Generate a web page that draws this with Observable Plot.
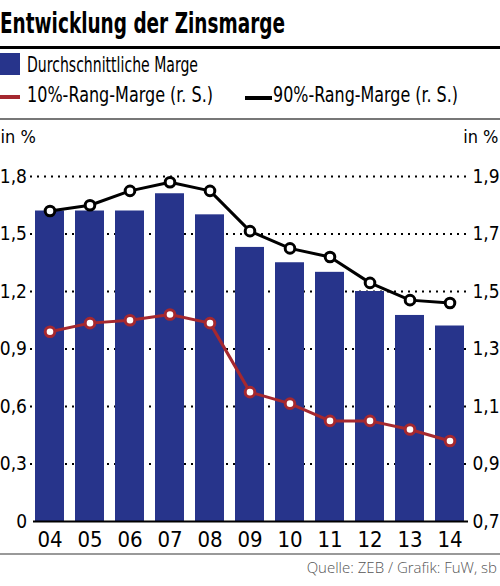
<!DOCTYPE html>
<html>
<head>
<meta charset="utf-8">
<script src="https://cdn.jsdelivr.net/npm/d3@7"></script>
<script src="https://cdn.jsdelivr.net/npm/@observablehq/plot@0.6"></script>
<style>
  html, body { margin: 0; padding: 0; background: #fff; }
  #page { position: relative; width: 500px; height: 586px; overflow: hidden; font-family: "Liberation Sans Narrow", "DejaVu Sans Condensed", sans-serif; color: #000; }
  .abs { position: absolute; white-space: nowrap; line-height: 1; }
  .fit { transform-origin: 0 0; display: inline-block; }
  #title { left: 0; top: 9px; font-size: 29px; font-weight: bold; }
  #rule1 { left: 0; top: 46px; width: 500px; height: 3px; background: #000; }
  #rule2 { left: 0; top: 118px; width: 500px; height: 1.5px; background: #777; }
  #rule3 { left: 0; top: 553px; width: 500px; height: 1.5px; background: #999; }
  .leg { font-size: 22px; }
  #chart { position: absolute; left: 0; top: 120px; }
  #source { right: 3px; top: 560px; font-size: 15px; color: #555; font-family: "Open Sans", "DejaVu Sans", sans-serif; font-weight: 300; }
</style>
</head>
<body>
<div id="page">
  <div class="abs fit" id="title" data-w="285">Entwicklung der Zinsmarge</div>
  <div class="abs" id="rule1"></div>
  <div class="abs" style="left:0;top:53px;width:20px;height:22px;background:#27348b"></div>
  <div class="abs fit leg" id="leg1" style="left:27px;top:54px" data-w="171">Durchschnittliche Marge</div>
  <div class="abs" style="left:0;top:95px;width:20px;height:4px;background:#a5282f"></div>
  <div class="abs fit leg" id="leg2" style="left:27px;top:84px" data-w="186">10%-Rang-Marge (r. S.)</div>
  <div class="abs" style="left:245px;top:96px;width:27px;height:4px;background:#000"></div>
  <div class="abs fit leg" id="leg3" style="left:273px;top:84px" data-w="185">90%-Rang-Marge (r. S.)</div>
  <div class="abs" id="rule2"></div>
  <div id="chart"></div>
  <div class="abs" id="rule3"></div>
  <div class="abs" id="source">Quelle: ZEB / Grafik: FuW, sb</div>
</div>
<script>
// ---- data ----
const years = ["04", "05", "06", "07", "08", "09", "10", "11", "12", "13", "14"];
const avgMargin = [1.62, 1.62, 1.62, 1.71, 1.60, 1.43, 1.35, 1.30, 1.20, 1.075, 1.02];
const rank10 = [1.36, 1.39, 1.40, 1.42, 1.39, 1.15, 1.11, 1.05, 1.05, 1.02, 0.98];
const rank90 = [1.78, 1.80, 1.85, 1.88, 1.85, 1.71, 1.65, 1.62, 1.53, 1.47, 1.46];
const leftTicks = [0, 0.3, 0.6, 0.9, 1.2, 1.5, 1.8];
const rightTicks = [0.7, 0.9, 1.1, 1.3, 1.5, 1.7, 1.9];

const navy = "#27348b";
const red = "#a5282f";

// right axis (r. S.) maps 0.7..1.9 onto left 0..1.8
const toLeft = v => (v - 0.7) * 1.5;
const fmt = d => d === 0 ? "0" : d.toFixed(1).replace(".", ",");

const data = years.map((year, i) => ({year, avg: avgMargin[i], r10: rank10[i], r90: rank90[i]}));

// fit header texts to widths
document.querySelectorAll(".fit").forEach(el => {
  const target = +el.dataset.w;
  const w = el.getBoundingClientRect().width;
  if (w > 0) el.style.transform = `scaleX(${target / w})`;
});

const font = "'Liberation Sans Narrow', 'DejaVu Sans Condensed', sans-serif";

const chart = Plot.plot({
  width: 500,
  height: 433,
  marginLeft: 29.5,
  marginRight: 30.5,
  marginTop: 56,
  marginBottom: 32,
  x: {domain: years, paddingInner: 0.27, paddingOuter: 0.135, axis: null},
  y: {domain: [0, 1.8], axis: null},
  style: {fontFamily: font, fontSize: "19px", color: "#000", background: "transparent", overflow: "visible"},
  marks: [
    Plot.ruleY(leftTicks.filter(d => d > 0), {stroke: "#000", strokeWidth: 1.8, strokeDasharray: "2,5", insetLeft: 0.5, insetRight: 2.5}),
    Plot.barY(data, {x: "year", y: "avg", fill: navy}),
    Plot.ruleY([0], {stroke: "#000", strokeWidth: 2, insetLeft: 3.5, insetRight: 1.5}),
    Plot.axisY({ticks: leftTicks, tickSize: 0, tickPadding: 3, tickFormat: fmt, label: null, fontSize: 19}),
    Plot.axisY({anchor: "right", ticks: rightTicks.map(toLeft), tickSize: 0, tickPadding: 2.5, tickFormat: d => fmt(d / 1.5 + 0.7), label: null, fontSize: 19}),
    Plot.axisX({tickSize: 0, tickPadding: 10, label: null, fontSize: 22}),
    Plot.line(data, {x: "year", y: d => toLeft(d.r10), stroke: red, strokeWidth: 3}),
    Plot.dot(data, {x: "year", y: d => toLeft(d.r10), r: 4.8, fill: "#fff", stroke: red, strokeWidth: 3}),
    Plot.line(data, {x: "year", y: d => toLeft(d.r90), stroke: "#000", strokeWidth: 3}),
    Plot.dot(data, {x: "year", y: d => toLeft(d.r90), r: 4.8, fill: "#fff", stroke: "#000", strokeWidth: 3}),
    Plot.text(["in %"], {frameAnchor: "top-left", textAnchor: "start", dx: -29.5, dy: -46, fontSize: 18}),
    Plot.text(["in %"], {frameAnchor: "top-right", textAnchor: "end", dx: 28.5, dy: -46, fontSize: 18})
  ]
});
document.getElementById("chart").appendChild(chart);
</script>
</body>
</html>
